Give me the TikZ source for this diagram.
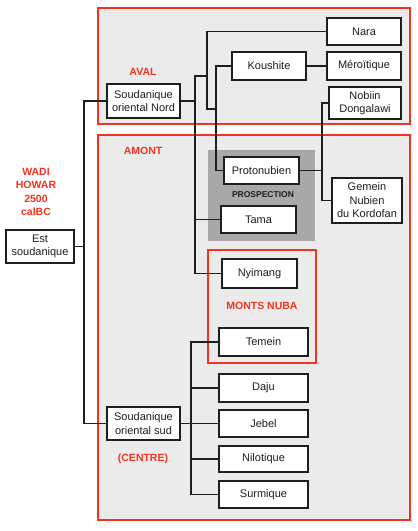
\documentclass[tikz,border=0pt]{standalone}
\usepackage{fontspec}
\setmainfont{Liberation Sans}
\usetikzlibrary{calc,positioning}
\definecolor{zonered}{RGB}{242,52,30}
\definecolor{zonegray}{RGB}{235,235,235}
\definecolor{prospgray}{RGB}{168,168,168}
\definecolor{ink}{RGB}{30,30,30}

\begin{document}
\begin{tikzpicture}[x=1pt,y=1pt,
	lang/.style 2 args={draw=ink, line width=1.6pt, fill=white, text=ink, align=center, inner sep=0pt,
		minimum width=#1, minimum height=#2, font=\fontsize{11}{13.5}\selectfont},
	zone/.style={draw=zonered, line width=1.5pt, fill=zonegray},
	zonelabel/.style={text=zonered, align=center, font=\fontsize{10.5}{13.5}\selectfont\bfseries},
	link/.style={draw=ink, line width=1.6pt}]
		\useasboundingbox (0,0) rectangle (418,-531);
		\draw[zone] (98,-8) rectangle (410,-124);
		\draw[zone] (98,-135) rectangle (410,-520);
		\fill[prospgray] (208,-150) rectangle (315,-241);
		\draw[zone] (208,-250) rectangle (316,-363);
		
		\node[zonelabel] (aval) at (143,-72) {AVAL};
		\node[zonelabel] (amont) at (143,-151) {AMONT};
		\node[zonelabel] (wadi) at (36,-192) {WADI\\HOWAR\\2500\\calBC};
		\node[zonelabel] (nuba) at (262,-306) {MONTS NUBA};
		\node[zonelabel] (centre) at (143,-459) {(CENTRE)};
		\node[text=ink, font=\fontsize{8.5}{10}\selectfont\bfseries] (prosp) at (263,-195) {PROSPECTION};
		
		\node[lang={68}{33}] (est) at (40,-246.5) {Est\\soudanique};
		\node[lang={73}{34}] (sonord) at (143.5,-101) {Soudanique\\oriental Nord};
		\node[lang={73}{33}] (sosud) at (143.5,-423.5) {Soudanique\\oriental sud};
		
		\node[lang={74}{27}] (nara) at (364,-31.5) {Nara};
		\node[lang={74}{28}] (koushite) at (269,-66) {Koushite};
		\node[lang={74}{28}] (meroitique) at (364,-66) {Méroïtique};
		\node[lang={72}{32}] (nobiin) at (365,-103) {Nobiin\\Dongalawi};
		\node[lang={75}{27}] (protonubien) at (261.5,-170.5) {Protonubien};
		\node[lang={70}{45}] (gemein) at (367,-200.5) {Gemein\\Nubien\\du Kordofan};
		\node[lang={75}{27}] (tama) at (258.5,-219.5) {Tama};
		\node[lang={75}{29}] (nyimang) at (259.5,-273.5) {Nyimang};
		
		\node[lang={89}{28}] (temein) at (263.5,-342) {Temein};
		\node[lang={89}{28}] (daju) at (263.5,-388) {Daju};
		\node[lang={89}{27}] (jebel) at (263.5,-423.5) {Jebel};
		\node[lang={89}{26}] (nilotique) at (263.5,-459) {Nilotique};
		\node[lang={89}{27}] (surmique) at (263.5,-494.5) {Surmique};
		
		\coordinate (root) at (84,-246.5);
		\coordinate (nord) at (195,-76);
		\coordinate (cush) at (207,-76);
		\coordinate (cushlow) at (207,-109);
		\coordinate (nubi) at (216,-109);
		\coordinate (nubfork) at (322,-170.5);
		\coordinate (sud) at (191,-423.5);
		
		\draw[link] (est.east) -- (root);
		\draw[link] (sonord.west) -| (root) |- (sosud.west);
		
		\draw[link] (sonord.east) -- (sonord.east -| nord);
		\draw[link] (cush) -- (nord) |- (tama.west);
		\draw[link] (nord) |- (nyimang.west);
		\draw[link] (nara.west) -| (cushlow) -- (nubi);
		\draw[link] (koushite.west) -| (nubi) |- (protonubien.west);
		\draw[link] (koushite.east) -- (meroitique.west);
		
		\draw[link] (protonubien.east) -- (nubfork);
		\draw[link] (nobiin.west) -| (nubfork) |- (gemein.west);
		
		\draw[link] (sosud.east) -- (jebel.west);
		\draw[link] (temein.west) -| (sud) |- (surmique.west);
		\draw[link] (daju.west) -- (daju.west -| sud);
		\draw[link] (nilotique.west) -- (nilotique.west -| sud);
	\end{tikzpicture}
\end{document}
